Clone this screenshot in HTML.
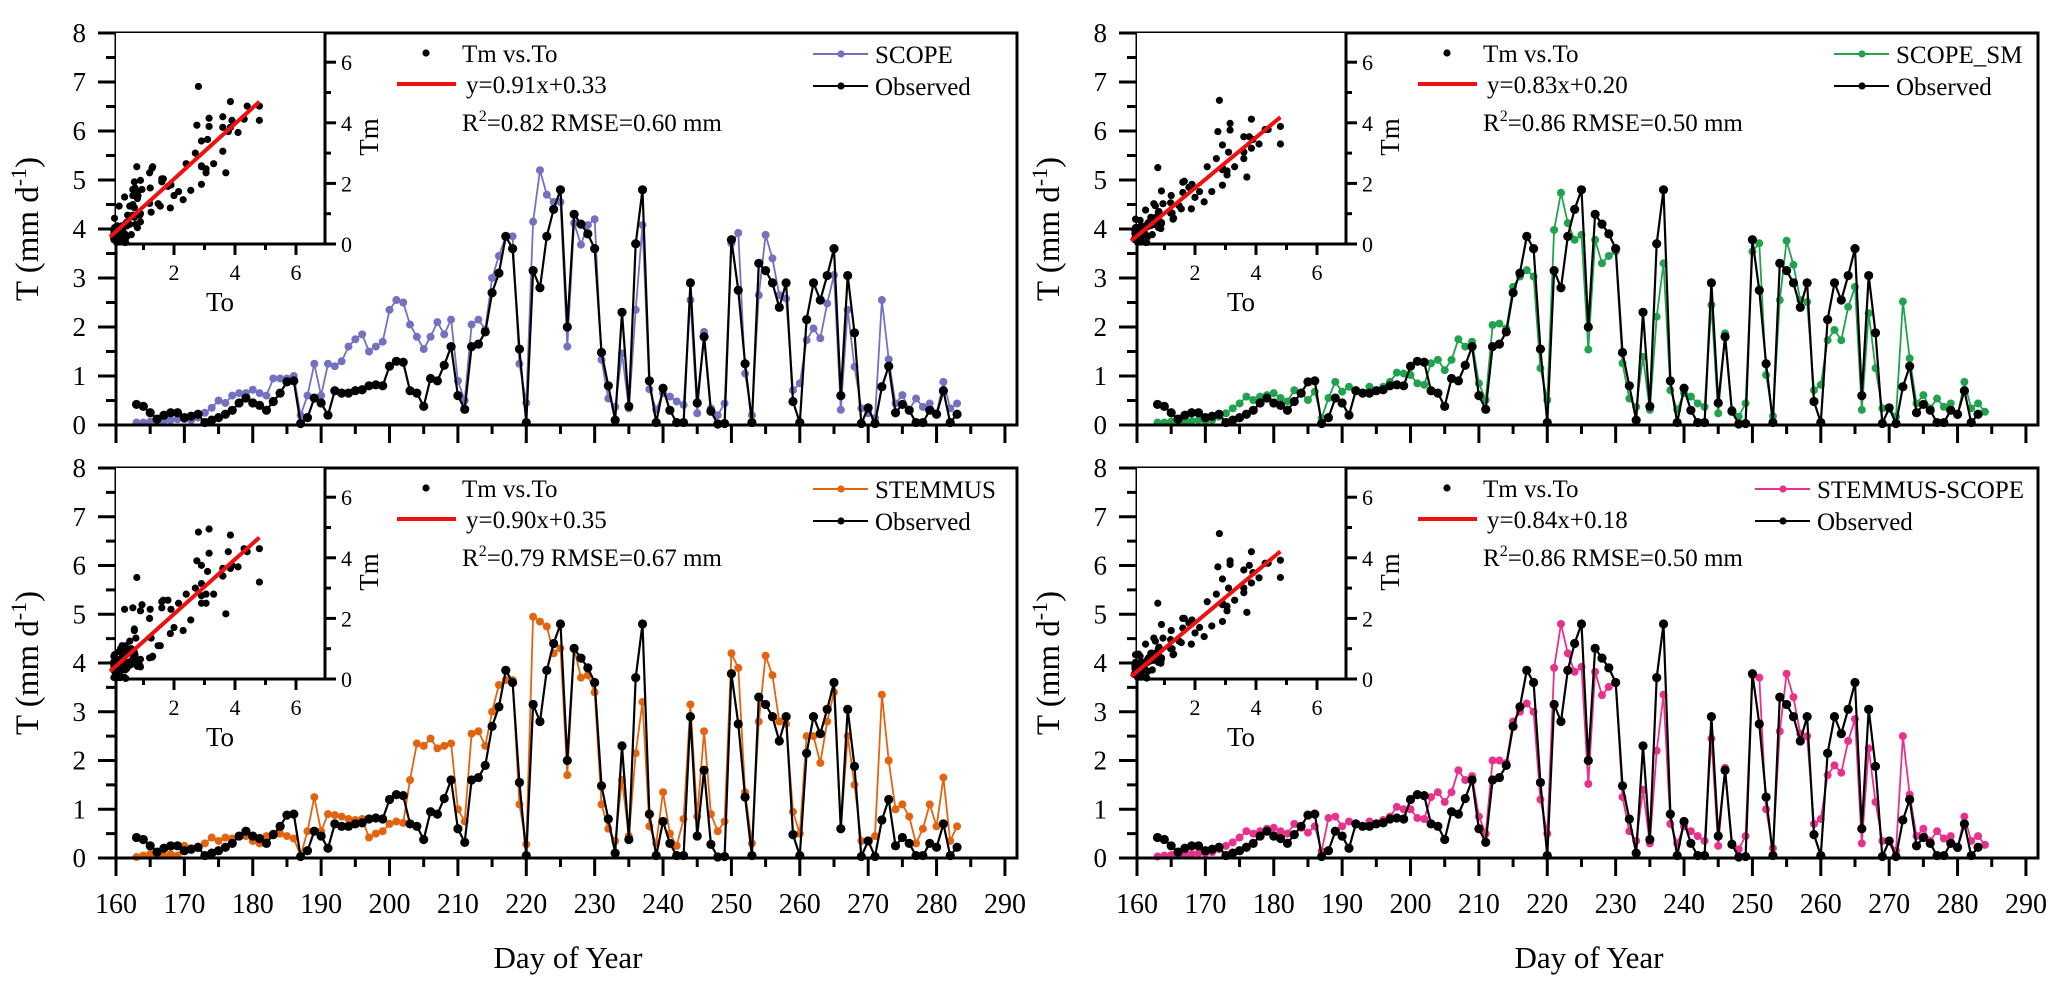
<!DOCTYPE html>
<html><head><meta charset="utf-8">
<style>
html,body{margin:0;padding:0;background:#fff;}
svg{display:block;font-family:"Liberation Serif","DejaVu Serif",serif;}
svg text{font-family:"Liberation Serif","DejaVu Serif",serif;}
</style></head>
<body>
<svg id="fig" width="2067" height="996" viewBox="0 0 2067 996" font-family="Liberation Serif, serif" xmlns="http://www.w3.org/2000/svg"></svg>
<script>
// ---- data (day of year starts at 163) ----
const startDay = 163;
const xTicks = [160,170,180,190,200,210,220,230,240,250,260,270,280,290];
const yTicks = [0,1,2,3,4,5,6,7,8];
const observed = [0.42,0.38,0.25,0.12,0.2,0.25,0.25,0.15,0.18,0.22,
0.05,0.1,0.15,0.22,0.3,0.45,0.55,0.45,0.4,0.3,
0.48,0.65,0.88,0.9,0.03,0.15,0.55,0.45,0.2,0.7,
0.65,0.65,0.7,0.72,0.8,0.82,0.8,1.2,1.3,1.28,
0.7,0.65,0.38,0.95,0.9,1.22,1.6,0.6,0.32,1.6,
1.65,1.9,2.7,3.1,3.85,3.6,1.55,0.05,3.15,2.8,
3.85,4.4,4.8,2.0,4.3,4.1,3.9,3.6,1.48,0.8,
0.1,2.3,0.38,3.7,4.8,0.9,0.05,0.75,0.3,0.05,
0.05,2.9,0.45,1.8,0.28,0.02,0.03,3.78,2.75,1.25,
0.05,3.3,3.15,2.9,2.4,2.9,0.48,0.05,2.15,2.9,
2.55,3.05,3.6,0.6,3.05,1.88,0.03,0.35,0.03,0.78,
1.2,0.25,0.42,0.3,0.05,0.05,0.3,0.22,0.7,0.05,0.22];
const scope = [0.05,0.05,0.07,0.05,0.08,0.1,0.12,0.12,0.1,0.15,
0.25,0.35,0.5,0.45,0.6,0.65,0.65,0.72,0.65,0.6,
0.95,0.95,0.95,1.0,0.2,0.6,1.25,0.6,1.25,1.2,
1.3,1.6,1.75,1.85,1.5,1.6,1.7,2.35,2.55,2.5,
2.05,1.8,1.55,1.8,2.1,1.85,2.15,0.9,0.5,2.05,
2.15,1.95,3.0,3.45,3.85,3.85,1.25,0.45,4.15,5.2,
4.7,4.55,4.55,1.6,4.12,3.68,4.08,4.2,1.33,0.54,
0.37,1.46,0.34,2.35,4.08,0.73,0.31,0.65,0.58,0.48,
0.41,2.55,0.24,1.9,0.34,0.2,0.44,3.71,3.92,1.05,
0.2,2.65,3.88,3.4,2.65,2.58,0.71,0.85,1.73,1.97,
1.77,2.48,3.06,0.31,2.35,1.19,0.34,0.24,0.14,2.55,
1.34,0.44,0.61,0.31,0.54,0.37,0.44,0.24,0.88,0.34,0.44];
const scopeSM = [0.05,0.05,0.07,0.05,0.08,0.08,0.1,0.08,0.1,0.17,
0.24,0.34,0.44,0.58,0.51,0.58,0.61,0.65,0.55,0.48,
0.71,0.65,0.51,0.68,0.14,0.55,0.88,0.68,0.78,0.71,
0.65,0.78,0.71,0.78,0.88,1.07,1.05,1.02,0.85,0.82,
1.26,1.33,1.12,1.33,1.75,1.6,1.7,0.85,0.51,2.04,
2.07,1.97,2.82,3.03,3.16,3.03,1.16,0.51,3.98,4.74,
4.12,3.78,3.88,1.54,3.78,3.3,3.45,3.54,1.26,0.54,
0.37,1.39,0.31,2.21,3.3,0.71,0.31,0.65,0.58,0.44,
0.37,2.45,0.24,1.87,0.31,0.17,0.44,3.54,3.71,1.02,
0.18,2.55,3.76,3.27,2.55,2.51,0.71,0.82,1.73,1.94,
1.73,2.41,2.82,0.31,2.28,1.16,0.34,0.34,0.17,2.52,
1.36,0.44,0.61,0.34,0.54,0.37,0.44,0.2,0.88,0.34,0.44,0.27];
const stemmus = [0.02,0.05,0.08,0.05,0.05,0.08,0.05,0.25,0.2,0.2,
0.3,0.42,0.35,0.42,0.4,0.45,0.45,0.35,0.3,0.45,
0.5,0.5,0.45,0.4,0.05,0.55,1.25,0.55,0.9,0.88,
0.85,0.8,0.78,0.8,0.42,0.5,0.55,0.7,0.75,0.72,
1.6,2.35,2.3,2.45,2.25,2.3,2.35,1.0,0.75,2.55,
2.6,2.3,3.0,3.55,3.65,3.65,1.1,0.28,4.95,4.85,
4.75,4.2,4.3,1.7,4.3,3.7,3.75,3.4,1.1,0.6,
0.35,1.6,0.45,2.15,3.2,0.65,0.3,1.35,0.5,0.25,
0.8,3.15,0.85,2.6,0.9,0.55,0.75,4.2,3.9,1.35,
0.3,2.8,4.15,3.75,2.8,2.75,0.95,0.5,2.5,2.5,
1.95,2.8,3.4,0.6,2.5,1.5,0.35,0.35,0.45,3.35,
2.0,1.0,1.1,0.85,0.3,0.6,1.1,0.65,1.65,0.35,0.65];
const stemmusScope = [0.03,0.05,0.06,0.05,0.08,0.08,0.1,0.1,0.12,0.18,
0.25,0.32,0.42,0.55,0.5,0.55,0.6,0.62,0.55,0.5,
0.7,0.62,0.52,0.65,0.14,0.82,0.85,0.65,0.75,0.7,
0.65,0.75,0.7,0.78,0.85,1.05,1.0,1.0,0.82,0.8,
1.25,1.35,1.15,1.35,1.8,1.6,1.68,0.85,0.5,2.0,
2.0,1.95,2.8,3.0,3.17,3.0,1.2,0.5,3.9,4.8,
4.2,3.82,3.92,1.52,3.82,3.34,3.51,3.6,1.25,0.55,
0.35,1.4,0.3,2.2,3.35,0.7,0.3,0.65,0.55,0.45,
0.35,2.45,0.25,1.85,0.3,0.18,0.45,3.75,3.7,1.0,
0.2,2.6,3.78,3.3,2.55,2.5,0.7,0.8,1.7,1.9,
1.75,2.4,2.85,0.3,2.25,1.15,0.35,0.35,0.15,2.5,
1.3,0.45,0.6,0.35,0.55,0.4,0.45,0.2,0.85,0.35,0.45,0.27];
const panelNames = ["SCOPE","SCOPE_SM","STEMMUS","STEMMUS-SCOPE"];
const slopes = [0.91,0.83,0.90,0.84];
const intercepts = [0.33,0.20,0.35,0.18];
const r2Values = ["0.82","0.86","0.79","0.86"];
const rmseValues = ["0.60","0.50","0.67","0.50"];
const insetXTicks = [2,4,6];
const insetYTicks = [0,2,4,6];

const NS = "http://www.w3.org/2000/svg";
const root = document.getElementById('fig');
function mk(parent, tag, attrs, text){
  const e = document.createElementNS(NS, tag);
  for (const k in attrs) e.setAttribute(k, attrs[k]);
  if (text !== undefined) e.textContent = text;
  parent.appendChild(e);
  return e;
}

const panels = [
  {L:116, T:33, H:392, model:scope, color:"#7272c0", showX:false, legX:759, slug:"scope"},
  {L:1137, T:33, H:392, model:scopeSM, color:"#21a24f", showX:false, legX:759, slug:"scope-sm"},
  {L:116, T:468, H:390, model:stemmus, color:"#e3640f", showX:true, legX:759, slug:"stemmus"},
  {L:1137, T:468, H:390, model:stemmusScope, color:"#e8318c", showX:true, legX:680, slug:"stemmus-scope"}
];
const W = 901, pxPerDay = 6.838;

panels.forEach((p, pi) => {
  const g = mk(root, 'g', {});
  
  
  const xs = d => p.L + (d - 160) * pxPerDay;
  const ys = v => p.T + p.H - v * p.H / 8;
  const B = p.T + p.H;

  const drawSeries = (vals, color, lw, r, nm) => {
    const sg = mk(g, 'g', {});
    
    
    const pts = vals.map((v, i) => xs(startDay + i).toFixed(1) + ',' + ys(v).toFixed(1)).join(' ');
    const pl = mk(sg, 'polyline', {points: pts, fill: 'none', stroke: color, 'stroke-width': lw, 'stroke-linejoin': 'round'});
    
    
    vals.forEach((v, i) => {
      const c = mk(sg, 'circle', {cx: xs(startDay + i), cy: ys(v), r: r, fill: color});
      
      
    });
  };
  drawSeries(p.model, p.color, 1.8, 4, p.slug + '-series');
  drawSeries(observed, '#000', 2.2, 4.6, 'observed-series');

  const fr = mk(g, 'rect', {x: p.L, y: p.T, width: W, height: p.H, fill: 'none', stroke: '#000', 'stroke-width': 3});
  
  

  yTicks.forEach(v => {
    const t = mk(g, 'line', {x1: p.L - 18, x2: p.L, y1: ys(v), y2: ys(v), stroke: '#000', 'stroke-width': 3});
    
    
    if (v < 8) {
      const m = mk(g, 'line', {x1: p.L - 10, x2: p.L, y1: ys(v + 0.5), y2: ys(v + 0.5), stroke: '#000', 'stroke-width': 3});
      
      
    }
    const lb = mk(g, 'text', {x: p.L - 30, y: ys(v) + 9, 'text-anchor': 'end', 'font-size': 27}, String(v));
    
    
  });
  xTicks.forEach((d, i) => {
    const t = mk(g, 'line', {x1: xs(d), x2: xs(d), y1: B, y2: B + 18, stroke: '#000', 'stroke-width': 3});
    
    
    if (i < xTicks.length - 1) {
      const m = mk(g, 'line', {x1: xs(d + 5), x2: xs(d + 5), y1: B, y2: B + 9, stroke: '#000', 'stroke-width': 3});
      
      
    }
    if (p.showX) {
      const lb = mk(g, 'text', {x: xs(d), y: B + 55, 'text-anchor': 'middle', 'font-size': 28}, String(d));
      
      
    }
  });
  const yt = mk(g, 'text', {x: 0, y: 0, 'text-anchor': 'middle', 'font-size': 33, transform: 'translate(' + (p.L - 78) + ',' + (p.T + p.H / 2) + ') rotate(-90)'});
  
  
  mk(yt, 'tspan', {}, 'T (mm d');
  mk(yt, 'tspan', {dy: -12, 'font-size': 22}, '-1');
  mk(yt, 'tspan', {dy: 12}, ')');
  if (p.showX) {
    const xt = mk(g, 'text', {x: p.L + 452, y: 968, 'text-anchor': 'middle', 'font-size': 31}, 'Day of  Year');
    
    
  }

  // ---- inset scatter ----
  const ig = mk(g, 'g', {});
  
  
  const IB = p.T + 211, IR = p.L + 209;
  const xi = v => p.L - 3 + v * 30.5;
  const yi = v => IB - v * 30.3;
  const bg = mk(ig, 'rect', {x: p.L, y: p.T, width: 209, height: 211, fill: '#fff'});
  
  
  observed.forEach((o, i) => {
    const c = mk(ig, 'circle', {cx: xi(o), cy: yi(p.model[i]), r: 3.6, fill: '#000'});
    
    
  });
  const x0 = 0, x1 = Math.max(...observed);
  const rl = mk(ig, 'line', {x1: xi(x0) - 3, y1: yi(slopes[pi] * x0 + intercepts[pi]) + 3, x2: xi(x1), y2: yi(slopes[pi] * x1 + intercepts[pi]), stroke: '#f01010', 'stroke-width': 4});
  
  
  const ax = mk(ig, 'polyline', {points: p.L + ',' + IB + ' ' + IR + ',' + IB + ' ' + IR + ',' + p.T, fill: 'none', stroke: '#000', 'stroke-width': 3});
  
  
  [1,3,5].forEach(v => {
    const m = mk(ig, 'line', {x1: xi(v), x2: xi(v), y1: IB, y2: IB + 6, stroke: '#000', 'stroke-width': 3});
    
    
    const n = mk(ig, 'line', {x1: IR, x2: IR + 6, y1: yi(v), y2: yi(v), stroke: '#000', 'stroke-width': 3});
    
    
  });
  insetXTicks.forEach(v => {
    const t = mk(ig, 'line', {x1: xi(v), x2: xi(v), y1: IB, y2: IB + 11, stroke: '#000', 'stroke-width': 3});
    
    
    const lb = mk(ig, 'text', {x: xi(v), y: IB + 36, 'text-anchor': 'middle', 'font-size': 22}, String(v));
    
    
  });
  insetYTicks.forEach(v => {
    const t = mk(ig, 'line', {x1: IR, x2: IR + 11, y1: yi(v), y2: yi(v), stroke: '#000', 'stroke-width': 3});
    
    
    const lb = mk(ig, 'text', {x: IR + 16, y: yi(v) + 8, 'font-size': 22}, String(v));
    
    
  });
  const tox = mk(ig, 'text', {x: p.L + 104, y: IB + 67, 'text-anchor': 'middle', 'font-size': 27}, 'To');
  
  
  const tmy = mk(ig, 'text', {x: 0, y: 0, 'text-anchor': 'middle', 'font-size': 27, transform: 'translate(' + (p.L + 262) + ',' + (p.T + 104) + ') rotate(-90)'}, 'Tm');
  
  

  // ---- legends ----
  const lg = mk(g, 'g', {'font-size': 25});
  
  
  const d1 = mk(lg, 'circle', {cx: p.L + 310, cy: p.T + 20, r: 3.6, fill: '#000'});
  
  
  const t1 = mk(lg, 'text', {x: p.L + 346, y: p.T + 29}, 'Tm vs.To');
  
  
  const l2 = mk(lg, 'line', {x1: p.L + 281, x2: p.L + 340, y1: p.T + 51, y2: p.T + 51, stroke: '#f01010', 'stroke-width': 4});
  
  
  const t2 = mk(lg, 'text', {x: p.L + 350, y: p.T + 60}, 'y=' + slopes[pi].toFixed(2) + 'x+' + intercepts[pi].toFixed(2));
  
  
  const t3 = mk(lg, 'text', {x: p.L + 346, y: p.T + 98});
  
  
  mk(t3, 'tspan', {}, 'R');
  mk(t3, 'tspan', {dy: -10, 'font-size': 16}, '2');
  mk(t3, 'tspan', {dy: 10}, '=' + r2Values[pi] + ' RMSE=' + rmseValues[pi] + ' mm');

  const sl = mk(g, 'g', {'font-size': 25});
  
  
  const entries = [[panelNames[pi], p.color, 21], ['Observed', '#000', 53]];
  entries.forEach(en => {
    const ln = mk(sl, 'line', {x1: p.L + p.legX - 62, x2: p.L + p.legX - 7, y1: p.T + en[2], y2: p.T + en[2], stroke: en[1], 'stroke-width': 2});
    
    
    const mc = mk(sl, 'circle', {cx: p.L + p.legX - 34, cy: p.T + en[2], r: 3.6, fill: en[1]});
    
    
    const tx = mk(sl, 'text', {x: p.L + p.legX, y: p.T + en[2] + 9}, en[0]);
    
    
  });
});
</script>
</body></html>
